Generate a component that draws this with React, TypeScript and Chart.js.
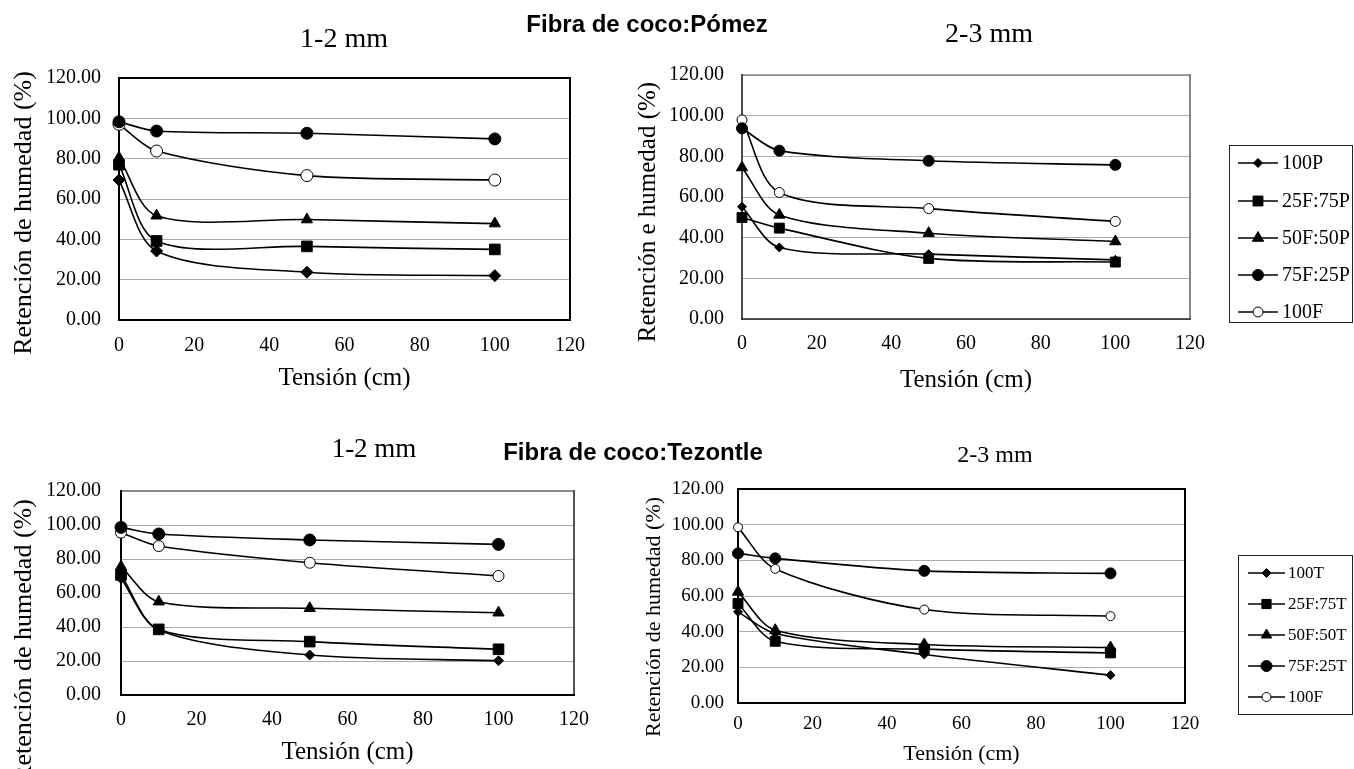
import React, { useEffect, useRef } from 'react';
import { Chart, registerables } from 'chart.js';

Chart.register(...registerables);

// ---------- data ----------
const tensionCm = [0, 10, 50, 100];
const xTickValues = [0, 20, 40, 60, 80, 100, 120];
const yTickValues = [0, 20, 40, 60, 80, 100, 120];

const seriesPomez = ['100P', '25F:75P', '50F:50P', '75F:25P', '100F'];
const seriesTezontle = ['100T', '25F:75T', '50F:50T', '75F:25T', '100F'];

// Fibra de coco:Pómez, 1-2 mm
const pom12_100P = [69.4, 34.2, 23.7, 22.0];
const pom12_25F75P = [77.0, 39.2, 36.5, 35.0];
const pom12_50F50P = [80.5, 51.7, 49.8, 47.8];
const pom12_75F25P = [98.3, 93.7, 92.6, 89.8];
const pom12_100F = [97.0, 83.8, 71.6, 69.4];

// Fibra de coco:Pómez, 2-3 mm
const pom23_100P = [55.2, 35.2, 31.9, 29.1];
const pom23_25F75P = [49.9, 44.7, 29.8, 28.0];
const pom23_50F50P = [74.5, 51.2, 42.2, 38.1];
const pom23_75F25P = [93.8, 82.8, 77.8, 75.8];
const pom23_100F = [97.9, 62.2, 54.3, 48.0];

// Fibra de coco:Tezontle, 1-2 mm
const tez12_100T = [68.6, 38.2, 23.5, 20.2];
const tez12_25F75T = [70.6, 38.6, 31.4, 26.9];
const tez12_50F50T = [75.5, 54.9, 51.0, 48.4];
const tez12_75F25T = [98.6, 94.7, 91.2, 88.6];
const tez12_100F = [95.5, 87.6, 77.8, 70.0];

// Fibra de coco:Tezontle, 2-3 mm
const tez23_100T = [51.1, 39.0, 27.2, 15.6];
const tez23_25F75T = [55.8, 34.6, 30.2, 28.1];
const tez23_50F50T = [62.3, 40.8, 32.8, 31.1];
const tez23_75F25T = [83.9, 81.1, 74.1, 72.7];
const tez23_100F = [98.5, 75.2, 52.4, 48.7];

// ---------- styles ----------
const SERIF = "'Liberation Serif', 'Times New Roman', Times, serif";
const SANS = "'Liberation Sans', Arial, Helvetica, sans-serif";
const markerStyles = ['rectRot', 'rect', 'triangle', 'circle', 'circle'];
const markerFills = ['#000', '#000', '#000', '#000', '#fff'];

function drawMarker(ctx: CanvasRenderingContext2D, style: string, x: number, y: number, r: number, fill: string) {
  ctx.save();
  ctx.fillStyle = fill;
  ctx.strokeStyle = '#000';
  ctx.lineWidth = 1;
  ctx.beginPath();
  if (style === 'circle') {
    ctx.arc(x, y, r, 0, Math.PI * 2);
  } else if (style === 'rect') {
    const s = Math.SQRT1_2 * r;
    ctx.rect(x - s, y - s, 2 * s, 2 * s);
  } else if (style === 'rectRot') {
    ctx.moveTo(x - r, y);
    ctx.lineTo(x, y - r);
    ctx.lineTo(x + r, y);
    ctx.lineTo(x, y + r);
    ctx.closePath();
  } else if (style === 'triangle') {
    let rad = 0;
    ctx.moveTo(x + Math.sin(rad) * r, y - Math.cos(rad) * r);
    rad += (2 * Math.PI) / 3;
    ctx.lineTo(x + Math.sin(rad) * r, y - Math.cos(rad) * r);
    rad += (2 * Math.PI) / 3;
    ctx.lineTo(x + Math.sin(rad) * r, y - Math.cos(rad) * r);
    ctx.closePath();
  }
  ctx.fill();
  ctx.stroke();
  ctx.restore();
}

type Spec = {
  labels: string[];
  values: number[][];
  radii: number[];
  plot: { l: number; r: number; t: number; b: number };
  yAxisW: number;
  xAxisH: number;
  tickFont: number;
  yTickPad: number;
  xTickPad: number;
  xTitleFont: number;
  yTitle: string;
  yTitleFont: number;
  yTitleX: number;
  yTitleY: number;
  frame: { top: string; right: string; left: string; bottom: string; w: number };
  gridColor: string;
  legend?: {
    x: number; y: number; w: number; h: number;
    items: number[]; lx1: number; lx2: number; tx: number; font: number; radii: number[];
  };
};

function buildConfig(spec: Spec): any {
  const datasets = spec.labels.map((label, i) => ({
    label,
    data: tensionCm.map((x, j) => ({ x, y: spec.values[i][j] })),
    borderColor: '#000',
    borderWidth: 1.6,
    tension: 0.3,
    fill: false,
    clip: false,
    pointStyle: markerStyles[i],
    pointRadius: spec.radii[i],
    pointBackgroundColor: markerFills[i],
    pointBorderColor: '#000',
    pointBorderWidth: 1,
  }));

  const framePlugin = {
    id: 'frame',
    beforeDatasetsDraw(chart: any) {
      const { left, right, top, bottom } = chart.chartArea;
      const ctx = chart.ctx as CanvasRenderingContext2D;
      const f = spec.frame;
      ctx.save();
      ctx.lineWidth = f.w;
      ctx.lineCap = 'square';
      const seg = (c: string, x1: number, y1: number, x2: number, y2: number) => {
        ctx.strokeStyle = c;
        ctx.beginPath();
        ctx.moveTo(x1, y1);
        ctx.lineTo(x2, y2);
        ctx.stroke();
      };
      seg(f.top, left, top, right, top);
      seg(f.right, right, top, right, bottom);
      seg(f.left, left, top, left, bottom);
      seg(f.bottom, left, bottom, right, bottom);
      ctx.restore();
    },
  };

  const yTitlePlugin = {
    id: 'yTitle',
    afterDraw(chart: any) {
      const ctx = chart.ctx as CanvasRenderingContext2D;
      ctx.save();
      ctx.translate(spec.yTitleX, spec.yTitleY);
      ctx.rotate(-Math.PI / 2);
      ctx.textAlign = 'center';
      ctx.textBaseline = 'middle';
      ctx.fillStyle = '#000';
      ctx.font = `${spec.yTitleFont}px ${SERIF}`;
      ctx.fillText(spec.yTitle, 0, 0);
      ctx.restore();
    },
  };

  const legendPlugin = {
    id: 'boxLegend',
    afterDraw(chart: any) {
      const lg = spec.legend;
      if (!lg) return;
      const ctx = chart.ctx as CanvasRenderingContext2D;
      ctx.save();
      ctx.fillStyle = '#fff';
      ctx.fillRect(lg.x, lg.y, lg.w, lg.h);
      ctx.strokeStyle = '#222';
      ctx.lineWidth = 1;
      ctx.strokeRect(lg.x + 0.5, lg.y + 0.5, lg.w - 1, lg.h - 1);
      chart.data.datasets.forEach((ds: any, i: number) => {
        const y = lg.items[i];
        ctx.strokeStyle = '#000';
        ctx.lineWidth = 1.6;
        ctx.beginPath();
        ctx.moveTo(lg.lx1, y);
        ctx.lineTo(lg.lx2, y);
        ctx.stroke();
        drawMarker(ctx, markerStyles[i], (lg.lx1 + lg.lx2) / 2, y, lg.radii[i], markerFills[i]);
        ctx.fillStyle = '#000';
        ctx.font = `${lg.font}px ${SERIF}`;
        ctx.textAlign = 'left';
        ctx.textBaseline = 'middle';
        ctx.fillText(ds.label, lg.tx, y + 1);
      });
      ctx.restore();
    },
  };

  const p = spec.plot;
  return {
    type: 'line',
    data: { datasets },
    plugins: [framePlugin, yTitlePlugin, legendPlugin],
    options: {
      animation: false,
      responsive: false,
      devicePixelRatio: 1,
      events: [],
      layout: {
        padding: {
          left: p.l - spec.yAxisW,
          top: p.t,
          right: 1354 - p.r,
          bottom: 769 - p.b - spec.xAxisH,
        },
      },
      plugins: { legend: { display: false }, tooltip: { enabled: false }, title: { display: false } },
      scales: {
        x: {
          type: 'linear',
          min: 0,
          max: 120,
          afterBuildTicks: (scale: any) => {
            scale.ticks = xTickValues.map((v) => ({ value: v }));
          },
          afterFit: (scale: any) => {
            scale.height = spec.xAxisH;
          },
          grid: { display: false, drawTicks: false },
          border: { display: false },
          ticks: {
            color: '#000',
            padding: spec.xTickPad,
            maxRotation: 0,
            autoSkip: false,
            font: { family: SERIF, size: spec.tickFont },
            callback: (v: any) => String(v),
          },
          title: {
            display: true,
            text: 'Tensión (cm)',
            color: '#000',
            padding: { top: 0, bottom: 0 },
            font: { family: SERIF, size: spec.xTitleFont },
          },
        },
        y: {
          type: 'linear',
          min: 0,
          max: 120,
          afterBuildTicks: (scale: any) => {
            scale.ticks = yTickValues.map((v) => ({ value: v }));
          },
          afterFit: (scale: any) => {
            scale.width = spec.yAxisW;
          },
          grid: { color: spec.gridColor, lineWidth: 1, drawTicks: false },
          border: { display: false },
          ticks: {
            color: '#000',
            padding: spec.yTickPad,
            autoSkip: false,
            font: { family: SERIF, size: spec.tickFont },
            callback: (v: any) => Number(v).toFixed(2),
          },
        },
      },
    },
  };
}

function LineChart({ spec }: { spec: Spec }) {
  const ref = useRef<HTMLCanvasElement>(null);
  useEffect(() => {
    if (!ref.current) return;
    const chart = new Chart(ref.current, buildConfig(spec));
    return () => chart.destroy();
  }, [spec]);
  return (
    <canvas
      ref={ref}
      width={1354}
      height={769}
      style={{ position: 'absolute', left: 0, top: 0, width: 1354, height: 769, display: 'block' }}
    />
  );
}

const spec1: Spec = {
  labels: seriesPomez,
  values: [pom12_100P, pom12_25F75P, pom12_50F50P, pom12_75F25P, pom12_100F],
  radii: [6, 7.5, 6.5, 6, 6],
  plot: { l: 119, r: 570, t: 78, b: 320 },
  yAxisW: 110,
  xAxisH: 73,
  tickFont: 20,
  yTickPad: 18,
  xTickPad: 14,
  xTitleFont: 25,
  yTitle: 'Retención de humedad (%)',
  yTitleFont: 26,
  yTitleX: 24,
  yTitleY: 213,
  frame: { top: '#000', right: '#000', left: '#000', bottom: '#000', w: 2 },
  gridColor: '#aaaaaa',
};

const spec2: Spec = {
  labels: seriesPomez,
  values: [pom23_100P, pom23_25F75P, pom23_50F50P, pom23_75F25P, pom23_100F],
  radii: [4.5, 7, 6.5, 5.5, 5],
  plot: { l: 742, r: 1190, t: 75, b: 319 },
  yAxisW: 110,
  xAxisH: 76,
  tickFont: 20,
  yTickPad: 18,
  xTickPad: 13,
  xTitleFont: 25,
  yTitle: 'Retención e humedad (%)',
  yTitleFont: 25,
  yTitleX: 648,
  yTitleY: 212,
  frame: { top: '#8a8a8a', right: '#6a6a6a', left: '#222', bottom: '#222', w: 1.6 },
  gridColor: '#aaaaaa',
  legend: {
    x: 1229, y: 145, w: 124, h: 178,
    items: [163, 201, 238, 275, 312],
    lx1: 1238, lx2: 1278, tx: 1282, font: 20,
    radii: [4.5, 7, 6.5, 5.5, 5],
  },
};

const spec3: Spec = {
  labels: seriesTezontle,
  values: [tez12_100T, tez12_25F75T, tez12_50F50T, tez12_75F25T, tez12_100F],
  radii: [5, 7.5, 6.5, 6, 5.5],
  plot: { l: 121, r: 574, t: 491, b: 695 },
  yAxisW: 112,
  xAxisH: 72,
  tickFont: 20,
  yTickPad: 20,
  xTickPad: 13,
  xTitleFont: 25,
  yTitle: 'Retención de humedad (%)',
  yTitleFont: 26,
  yTitleX: 24,
  yTitleY: 641,
  frame: { top: '#8a8a8a', right: '#555', left: '#000', bottom: '#000', w: 2 },
  gridColor: '#aaaaaa',
};

const spec4: Spec = {
  labels: seriesTezontle,
  values: [tez23_100T, tez23_25F75T, tez23_50F50T, tez23_75F25T, tez23_100F],
  radii: [4.5, 7, 6.5, 5.5, 4.5],
  plot: { l: 738, r: 1185, t: 489, b: 703 },
  yAxisW: 110,
  xAxisH: 64,
  tickFont: 19,
  yTickPad: 14,
  xTickPad: 10,
  xTitleFont: 22,
  yTitle: 'Retención de humedad (%)',
  yTitleFont: 22,
  yTitleX: 654,
  yTitleY: 617,
  frame: { top: '#000', right: '#000', left: '#000', bottom: '#000', w: 2 },
  gridColor: '#aaaaaa',
  legend: {
    x: 1238, y: 555, w: 115, h: 160,
    items: [573, 604, 635, 666, 697],
    lx1: 1248, lx2: 1285, tx: 1288, font: 17,
    radii: [4.5, 6.5, 6, 5.5, 4.5],
  },
};

function Label({ text, cx, top, size, family, bold }: { text: string; cx: number; top: number; size: number; family: string; bold?: boolean }) {
  return (
    <div
      style={{
        position: 'absolute',
        left: cx,
        top,
        transform: 'translateX(-50%)',
        fontSize: size,
        lineHeight: `${size}px`,
        fontFamily: family,
        fontWeight: bold ? 700 : 400,
        whiteSpace: 'nowrap',
        color: '#000',
      }}
    >
      {text}
    </div>
  );
}

export default function App() {
  return (
    <div style={{ position: 'absolute', left: 0, top: 0, width: 1354, height: 769, background: '#fff', overflow: 'hidden' }}>
      <LineChart spec={spec1} />
      <LineChart spec={spec2} />
      <LineChart spec={spec3} />
      <LineChart spec={spec4} />
      <Label text="Fibra de coco:Pómez" cx={647} top={12} size={24} family={SANS} bold />
      <Label text="1-2 mm" cx={344} top={24} size={28} family={SERIF} />
      <Label text="2-3 mm" cx={989} top={19} size={28} family={SERIF} />
      <Label text="1-2 mm" cx={374} top={435} size={27} family={SERIF} />
      <Label text="Fibra de coco:Tezontle" cx={633} top={440} size={24} family={SANS} bold />
      <Label text="2-3 mm" cx={995} top={442} size={24} family={SERIF} />
    </div>
  );
}
